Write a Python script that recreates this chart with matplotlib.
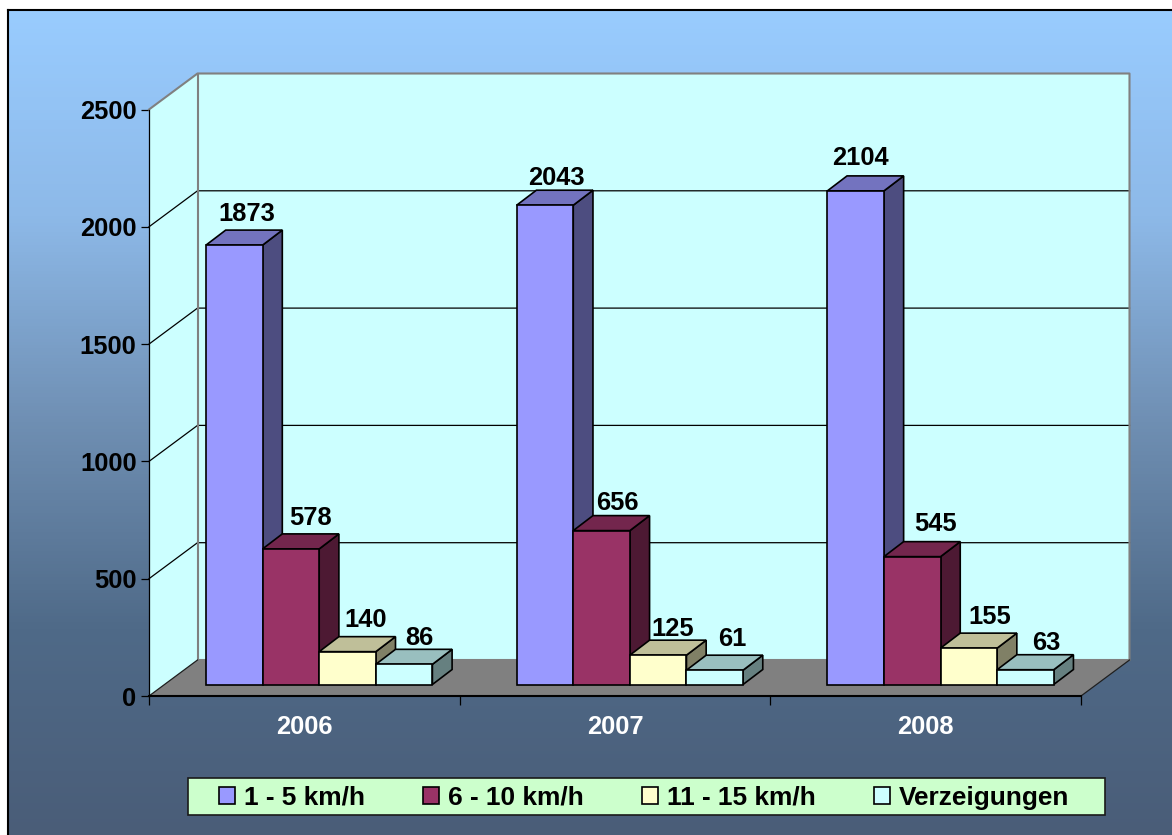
import matplotlib
matplotlib.use('Agg')
from matplotlib import pyplot as plt
from matplotlib.colors import LinearSegmentedColormap
from matplotlib.patches import Polygon, Rectangle
import numpy as np

plt.rcParams['font.family'] = ['Liberation Sans', 'DejaVu Sans']
plt.rcParams['font.weight'] = 'bold'

years = ['2006', '2007', '2008']
series_names = ['1 - 5 km/h', '6 - 10 km/h', '11 - 15 km/h', 'Verzeigungen']
speed_1_5 = [1873, 2043, 2104]
speed_6_10 = [578, 656, 545]
speed_11_15 = [140, 125, 155]
verzeigungen = [86, 61, 63]
y_ticks = [0, 500, 1000, 1500, 2000, 2500]

front_colors = ['#9999FF', '#993366', '#FFFFCC', '#CCFFFF']
top_colors = ['#7373BF', '#73264D', '#BFBF99', '#99BFBF']
side_colors = ['#4D4D80', '#4D1933', '#808066', '#668080']

# label nudges in pixels, the labels in the original were not placed evenly
nudge_x = [[13, 20, 18, 15], [11, 16, 15, 18], [5, 23, 21, 21]]
nudge_y = [[31, 31, 32, 26], [27, 28, 26, 31], [33, 33, 31, 27]]

W, H = 1172, 835
fig = plt.figure(figsize=(W/100, H/100), dpi=100, facecolor='white')

# background with the blue gradient
bg = fig.add_axes([8/W, 0, 1 - 8/W, (H - 10)/H])
cmap = LinearSegmentedColormap.from_list('bg', ['#99CCFF', '#8DB9E8', '#6F8FB3', '#4F6A88', '#4A5D78'])
bg.imshow(np.linspace(0, 1, 256).reshape(-1, 1), cmap=cmap, aspect='auto')
bg.set_xticks([])
bg.set_yticks([])
for s in ['right', 'bottom']:
    bg.spines[s].set_visible(False)
for s in ['left', 'top']:
    bg.spines[s].set_linewidth(1.5)

# main axes is the front plane of the 3d box
left, right, y0, y2500 = 149, 1081, 696, 109.5
ax = fig.add_axes([left/W, (H - y0)/H, (right - left)/W, (y0 - y2500)/H])
ax.set_xlim(0, 3)
ax.set_ylim(0, 2500)
ax.patch.set_visible(False)
px_x = 3/(right - left)
px_y = 2500/(y0 - y2500)

wall_dx = 48.5*px_x
wall_dy = 36*px_y
bar_w = 56.6*px_x
bar_dx = 19.7*px_x
bar_dy = 15*px_y
bar_start = 57*px_x
bar_base = 11.5*px_y


def poly(pts, fc, ec='none', lw=0, z=1):
    ax.add_patch(Polygon(pts, closed=True, facecolor=fc, edgecolor=ec, linewidth=lw,
                         joinstyle='miter', clip_on=False, zorder=z))


# walls and floor
poly([(wall_dx, wall_dy), (3 + wall_dx, wall_dy), (3 + wall_dx, 2500 + wall_dy), (wall_dx, 2500 + wall_dy)], '#CCFFFF')
poly([(0, 0), (wall_dx, wall_dy), (wall_dx, 2500 + wall_dy), (0, 2500)], '#CCFFFF')
poly([(0, 0), (3, 0), (3 + wall_dx, wall_dy), (wall_dx, wall_dy)], '#808080')

for v in y_ticks[1:-1]:
    ax.plot([0, wall_dx, 3 + wall_dx], [v, v + wall_dy, v + wall_dy], color='black', lw=0.9, clip_on=False, zorder=2)
ax.plot([0, wall_dx, 3 + wall_dx, 3 + wall_dx], [2500, 2500 + wall_dy, 2500 + wall_dy, wall_dy],
        color='#808080', lw=1.5, clip_on=False, zorder=2)
ax.plot([wall_dx, wall_dx, 3 + wall_dx], [2500 + wall_dy, wall_dy, wall_dy], color='#808080', lw=1.5, clip_on=False, zorder=2)
ax.plot([0, wall_dx], [0, wall_dy], color='#202020', lw=0.9, clip_on=False, zorder=2)
ax.plot([3, 3 + wall_dx], [0, wall_dy], color='#202020', lw=0.9, clip_on=False, zorder=2)

# bars, left to right so the next bar covers the side of the one before
all_series = [speed_1_5, speed_6_10, speed_11_15, verzeigungen]
z = 3
for i in range(len(years)):
    for j, values in enumerate(all_series):
        val = values[i]
        x0 = i + bar_start + j*bar_w
        x1 = x0 + bar_w
        b = bar_base
        t = bar_base + val
        poly([(x1, b), (x1 + bar_dx, b + bar_dy), (x1 + bar_dx, t + bar_dy), (x1, t)], side_colors[j], 'black', 1.2, z)
        poly([(x0, t), (x1, t), (x1 + bar_dx, t + bar_dy), (x0 + bar_dx, t + bar_dy)], top_colors[j], 'black', 1.2, z)
        poly([(x0, b), (x1, b), (x1, t), (x0, t)], front_colors[j], 'black', 1.2, z)
        z += 1
        ax.annotate(str(val), xy=((x0 + x1)/2, t), xycoords='data',
                    xytext=(nudge_x[i][j], nudge_y[i][j]), textcoords='offset pixels',
                    ha='center', va='center', fontsize=18.4, color='black',
                    annotation_clip=False, zorder=50)

# axes
for s in ['top', 'right']:
    ax.spines[s].set_visible(False)
ax.spines['left'].set_linewidth(0.9)
ax.spines['bottom'].set_linewidth(1.5)
ax.spines['left'].set_zorder(20)
ax.spines['bottom'].set_zorder(20)
ax.set_yticks(y_ticks)
ax.set_yticklabels([str(v) for v in y_ticks], fontsize=18.4, color='black')
ax.tick_params(axis='y', length=6, width=0.9, pad=3)
ax.set_xticks([0, 1, 2, 3])
ax.set_xticklabels([])
ax.tick_params(axis='x', which='major', length=6.5, width=0.9)
ax.set_xticks([0.5, 1.5, 2.5], minor=True)
ax.set_xticklabels(years, minor=True, fontsize=18.4, color='white')
ax.tick_params(axis='x', which='minor', length=0, pad=14)

# legend box is drawn by hand because its padding differs left/right and top/bottom
fig.add_artist(Rectangle((188/W, (H - 815)/H), (1105 - 188)/W, (815 - 777.5)/H, transform=fig.transFigure,
                         facecolor='#CCFFCC', edgecolor='#1a1a1a', linewidth=1.2, zorder=5))
handles = [Rectangle((0, 0), 1, 1, facecolor=c, edgecolor='black', linewidth=1.2) for c in front_colors]
leg = fig.legend(handles, series_names, loc='center', bbox_to_anchor=(644/W, (H - 797.5)/H),
                 ncol=4, frameon=False, fontsize=18.9, handlelength=0.61, handleheight=0.61,
                 handletextpad=0.34, columnspacing=2.21, borderpad=0, borderaxespad=0)
leg.set_zorder(6)

fig.savefig('out.png', dpi=100)
